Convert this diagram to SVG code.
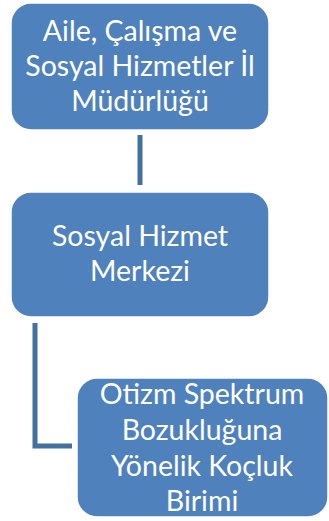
<svg xmlns="http://www.w3.org/2000/svg" width="329" height="521" viewBox="0 0 329 521">
<style>
.box{fill:#4F81BD;stroke:#FFFFFF;stroke-width:1.5}
.t{fill:#FFFFFF;font-family:Lato,"Open Sans","Liberation Sans",sans-serif;font-size:28.5px;text-anchor:middle}
.c{fill:none;stroke:#41719C;stroke-width:5}
</style>
<rect width="329" height="521" fill="#FFFFFF"/>
<g id="connectors">
<line class="c" x1="140" y1="135" x2="140" y2="185"/>
<polyline class="c" points="35,323 35,446 72,446"/>
</g>
<g id="node1">
<rect class="box" x="11" y="3" width="258" height="127" rx="20"/>
<text class="t" x="140" y="41">Aile, Çalışma ve</text>
<text class="t" x="140" y="76">Sosyal Hizmetler İl</text>
<text class="t" x="140" y="111">Müdürlüğü</text>
</g>
<g id="node2">
<rect class="box" x="11" y="192" width="258" height="125" rx="20"/>
<text class="t" x="140" y="246">Sosyal Hizmet</text>
<text class="t" x="140" y="281">Merkezi</text>
</g>
<g id="node3">
<rect class="box" x="77" y="378" width="251" height="139" rx="20"/>
<text class="t" x="202" y="404">Otizm Spektrum</text>
<text class="t" x="202" y="440">Bozukluğuna</text>
<text class="t" x="202" y="476">Yönelik Koçluk</text>
<text class="t" x="202" y="511">Birimi</text>
</g>
</svg>
